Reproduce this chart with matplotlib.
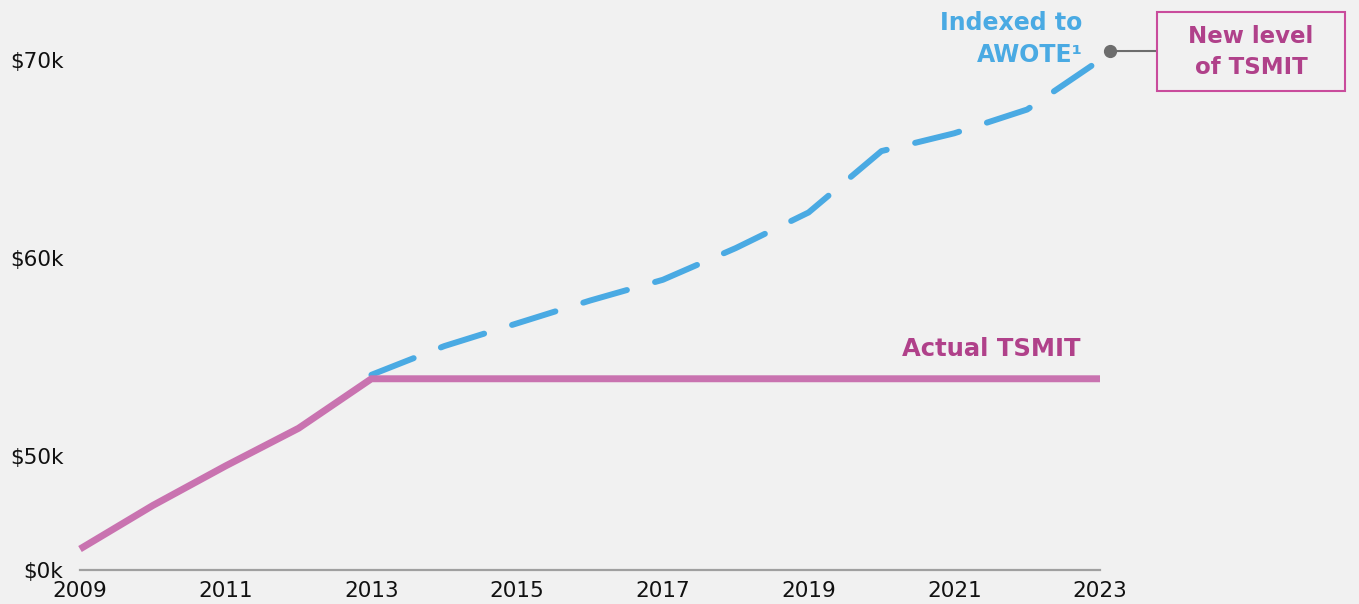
import matplotlib.pyplot as plt
import matplotlib.transforms as mtransforms
from matplotlib.patches import Rectangle

# data
years = [2009, 2010, 2011, 2012, 2013, 2014, 2015, 2016, 2017, 2018, 2019, 2020, 2021, 2022, 2023]
tsmit = [45300, 47500, 49500, 51400, 53900, 53900, 53900, 53900, 53900, 53900, 53900, 53900, 53900, 53900, 53900]
awote_years = [2013, 2014, 2015, 2016, 2017, 2018, 2019, 2020, 2021, 2022, 2023]
awote = [54100, 55550, 56700, 57850, 58900, 60500, 62300, 65400, 66300, 67500, 70000]
xticks = [2009, 2011, 2013, 2015, 2017, 2019, 2021, 2023]
# the axis is broken: the bottom of the plot is labelled $0k
yticks = [44240, 50000, 60000, 70000]
ytick_labels = ["$0k", "$50k", "$60k", "$70k"]

bg = "#f1f1f1"
pink = "#c973b0"
pink_text = "#b0418a"
blue = "#4aaae3"
grey = "#6d6d6d"

plt.rcParams["font.family"] = ["DejaVu Sans"]

W, H = 1359, 604
fig = plt.figure(figsize=(W / 100, H / 100), dpi=100, facecolor=bg)
ax = fig.add_axes([80 / W, 34 / H, 1020 / W, 565 / H], facecolor=bg)

ax.plot(awote_years, awote, color=blue, lw=4.3, dashes=(7.6, 4.9),
        dash_capstyle="round", solid_capstyle="round", clip_on=False, zorder=3)
ax.plot(years, tsmit, color=pink, lw=5, solid_capstyle="butt",
        solid_joinstyle="miter", clip_on=False, zorder=4)

ax.set_xlim(2009, 2023)
ax.set_ylim(44240, 72780)
ax.set_xticks(xticks)
ax.set_xticklabels([str(x) for x in xticks])
ax.set_yticks(yticks)
ax.set_yticklabels(ytick_labels)
ax.tick_params(axis="both", length=0, labelsize=15.5, colors="#111111")
ax.tick_params(axis="x", pad=8)
ax.tick_params(axis="y", pad=12)
for s in ["top", "right", "left"]:
    ax.spines[s].set_visible(False)
ax.spines["bottom"].set_color("#a0a0a0")
ax.spines["bottom"].set_linewidth(1.6)

# series labels
ax.text(2022.73, 54800, "Actual TSMIT", color=pink_text, fontsize=17.5,
        fontweight="bold", ha="right", va="bottom")
ax.text(2022.76, 72500, "Indexed to\nAWOTE\u00b9", color=blue, fontsize=17,
        fontweight="bold", ha="right", va="top", linespacing=1.45)

# marker for the new level, nudged off the line end
dot_tr = mtransforms.offset_copy(ax.transData, fig=fig, x=10, y=9, units="dots")
ax.plot([awote_years[-1]], [awote[-1]], "o", color=grey, ms=8.5,
        transform=dot_tr, clip_on=False, zorder=5)

# box with connector
box_l, box_r, box_t, box_b = 1157, 1345, 12, 91
fig.add_artist(Rectangle((box_l / W, 1 - box_b / H), (box_r - box_l) / W,
                         (box_b - box_t) / H, transform=fig.transFigure,
                         facecolor=bg, edgecolor="#c94c9c", lw=1.5))
ax.annotate("", xy=(awote_years[-1], awote[-1]), xycoords=dot_tr,
            xytext=(box_l, H - 51), textcoords="figure pixels",
            arrowprops=dict(arrowstyle="-", color=grey, lw=1.5,
                            shrinkA=0, shrinkB=0), annotation_clip=False)
fig.text((box_l + box_r) / 2 / W, 1 - 52 / H, "New level\nof TSMIT",
         color=pink_text, fontsize=16.5, fontweight="bold", ha="center",
         va="center", linespacing=1.45)

fig.savefig("out.png", dpi=100, facecolor=bg)
